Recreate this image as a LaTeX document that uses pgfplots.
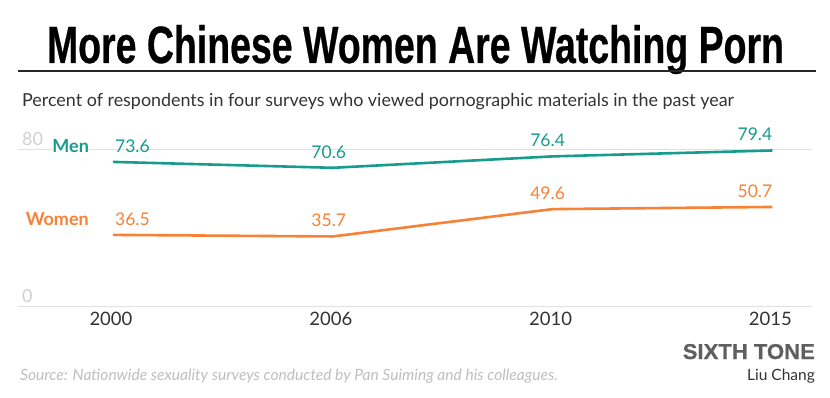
\documentclass[border=0pt]{standalone}
\usepackage{fontspec}
\setmainfont{Lato}
\newfontfamily\titlefont[BoldFeatures={FakeBold=0.6}]{Liberation Sans}
\usepackage{graphicx}
\usepackage{pgfplots}
\pgfplotsset{compat=1.18}
\definecolor{mteal}{RGB}{22,155,140}
\definecolor{morange}{RGB}{247,129,52}
\definecolor{gridc}{RGB}{224,224,224}
\definecolor{tickc}{RGB}{208,208,208}
\definecolor{textc}{RGB}{51,51,51}
\definecolor{srcc}{RGB}{190,190,190}
\definecolor{logoc}{RGB}{95,95,95}
\begin{document}
\begin{tikzpicture}[x=1pt,y=1pt]
\path[use as bounding box] (0,0) rectangle (830,-398);
% title
\node[anchor=base, inner sep=0] at (415.5,-63) {\resizebox{737pt}{38pt}{\titlefont\bfseries More Chinese Women Are Watching Porn}};
\draw[black!85, line width=2pt] (18,-71) -- (816,-71);
\node[anchor=base west, inner sep=0, text=textc, font=\fontsize{17.9}{20}\selectfont] at (22,-106.5) {Percent of respondents in four surveys who viewed pornographic materials in the past year};
% chart
\begin{axis}[
  at={(18pt,-306.7pt)}, anchor=south west,
  scale only axis, width=794pt, height=157.4pt,
  xmin=-0.432, xmax=3.18, ymin=0, ymax=80,
  clip=false,
  axis line style={draw=none},
  major tick length=0pt,
  ytick={0,80},
  ymajorgrids,
  grid style={gridc, line width=1.3pt},
  yticklabel style={anchor=base west, inner sep=0pt, xshift=4pt, yshift=4pt, text=tickc, font=\fontsize{18}{20}\selectfont},
  /pgf/number format/assume math mode=true,
  xtick={0,1,2,3},
  xticklabels={2000,2006,2010,2015},
  xticklabel style={anchor=base, inner sep=0pt, yshift=-18.5pt, xshift=-2pt, text=textc, font=\fontsize{18.5}{20}\selectfont},
]
\addplot[mteal, line width=2.6pt, line join=round] coordinates {(0,73.6) (1,70.6) (2,76.4) (3,79.4)};
\addplot[morange, line width=2.6pt, line join=round] coordinates {(0,36.5) (1,35.7) (2,49.6) (3,50.7)};
% value labels
\begin{scope}[every node/.style={inner sep=0pt, font=\fontsize{17.5}{20}\selectfont}]
\node[anchor=base west, text=mteal, xshift=2pt, yshift=9.5pt] at (axis cs:0,73.6) {73.6};
\node[anchor=base, text=mteal, xshift=-4pt, yshift=9.5pt] at (axis cs:1,70.6) {70.6};
\node[anchor=base, text=mteal, xshift=-5pt, yshift=9.5pt] at (axis cs:2,76.4) {76.4};
\node[anchor=base east, text=mteal, yshift=9.5pt] at (axis cs:3,79.4) {79.4};
\node[anchor=base west, text=morange, xshift=2pt, yshift=9.5pt] at (axis cs:0,36.5) {36.5};
\node[anchor=base, text=morange, xshift=-4pt, yshift=9.5pt] at (axis cs:1,35.7) {35.7};
\node[anchor=base, text=morange, xshift=-5pt, yshift=9.5pt] at (axis cs:2,49.6) {49.6};
\node[anchor=base east, text=morange, yshift=9.5pt] at (axis cs:3,50.7) {50.7};
\end{scope}
% series labels
\node[anchor=base east, inner sep=0pt, fill=white, outer sep=0pt, text=mteal, font=\fontsize{18}{20}\selectfont\bfseries, xshift=-24pt, yshift=9.5pt] at (axis cs:0,73.6) {Men};
\node[anchor=base east, inner sep=0pt, text=morange, font=\fontsize{18}{20}\selectfont\bfseries, xshift=-24pt, yshift=9.5pt] at (axis cs:0,36.5) {Women};
\end{axis}
% footer
\node[anchor=base east, inner sep=0, text=logoc] at (815,-359) {\resizebox{132pt}{15pt}{\titlefont\bfseries SIXTH TONE}};
\node[anchor=base east, inner sep=0, text=textc, font=\fontsize{15.5}{18}\selectfont] at (815,-380) {Liu Chang};
\node[anchor=base west, inner sep=0, text=srcc, font=\fontsize{15.6}{18}\selectfont\itshape] at (20,-380) {Source: Nationwide sexuality surveys conducted by Pan Suiming and his colleagues.};
\end{tikzpicture}
\end{document}
